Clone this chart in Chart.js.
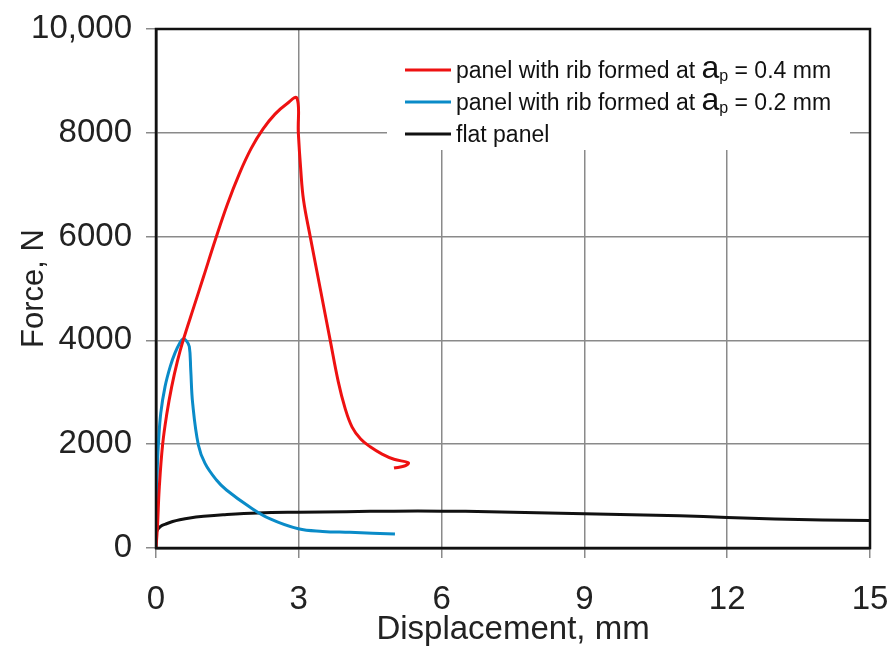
<!DOCTYPE html>
<html>
<head>
<meta charset="utf-8">
<script src="https://cdn.jsdelivr.net/npm/chart.js@4/dist/chart.umd.min.js"></script>
<style>
  html, body { margin: 0; padding: 0; background: #fff; }
  #wrap { width: 894px; height: 650px; }
</style>
</head>
<body>
<div id="wrap"><canvas id="forceChart" width="894" height="650"></canvas></div>
<script>
// tick values
const xTicks = [0, 3, 6, 9, 12, 15];
const yTicks = [0, 2000, 4000, 6000, 8000, 10000];

// panel with rib formed at ap = 0.4 mm
const ribDeepX = [0, 0.03, 0.07, 0.14, 0.23, 0.33, 0.45, 0.57, 0.8, 1.0, 1.25, 1.5, 1.75, 2.0, 2.25, 2.5, 2.75, 2.96,
  2.99, 3.04, 3.1, 3.24, 3.45, 3.66, 3.83, 3.97, 4.12, 4.3, 4.5, 4.75, 5.0, 5.3, 5.22, 5.0];
const ribDeepY = [0, 400, 1180, 2000, 2600, 3110, 3600, 4000, 4660, 5230, 5950, 6625, 7210, 7700, 8075, 8360, 8560, 8670,
  8000, 7300, 6700, 6000, 5000, 4000, 3200, 2700, 2330, 2100, 1950, 1810, 1710, 1640, 1580, 1540];

// panel with rib formed at ap = 0.2 mm
const ribShallowX = [0, 0.01, 0.03, 0.05, 0.1, 0.19, 0.3, 0.4, 0.5, 0.57, 0.64, 0.7, 0.73, 0.77, 0.89, 1.03,
  1.27, 1.48, 1.97, 2.4, 2.99, 3.5, 4.07, 5.02];
const ribShallowY = [300, 1000, 1600, 2000, 2600, 3110, 3500, 3760, 3950, 4030, 3990, 3880, 3430, 2790, 1985, 1630,
  1310, 1117, 790, 560, 370, 320, 302, 270];

// flat panel
const flatX = [0, 0.03, 0.1, 0.2, 0.35, 0.5, 0.71, 1.0, 1.41, 2.14, 3, 4, 5, 6, 7, 8, 9, 10, 11, 12, 13, 14, 15];
const flatY = [290, 350, 420, 460, 510, 545, 580, 610, 640, 675, 690, 700, 710, 710, 700, 680, 660, 640, 620, 590, 560, 540, 530];

const legendLabels = [
  { pre: 'panel with rib formed at ', post: ' = 0.4 mm', color: '#ee1111' },
  { pre: 'panel with rib formed at ', post: ' = 0.2 mm', color: '#0a8bc8' },
  { pre: 'flat panel', post: null, color: '#111111' }
];

function toPoints(xs, ys) {
  return xs.map((x, i) => ({ x: x, y: ys[i] }));
}

const FONT = "'Liberation Sans', Arial, sans-serif";

// white legend box inside the plot, with the "a" subscript "p"
const legendBox = {
  id: 'legendBox',
  beforeDatasetsDraw(chart) {
    const ctx = chart.ctx;
    const area = chart.chartArea;
    ctx.save();
    ctx.fillStyle = '#fff';
    ctx.fillRect(387, area.top, 463, 121);
    ctx.textBaseline = 'alphabetic';
    legendLabels.forEach((item, i) => {
      const y = 70 + i * 32;
      ctx.strokeStyle = item.color;
      ctx.lineWidth = 3;
      ctx.beginPath();
      ctx.moveTo(405, y);
      ctx.lineTo(451, y);
      ctx.stroke();
      let x = 456;
      const base = y + 8;
      ctx.fillStyle = '#111';
      ctx.font = '23px ' + FONT;
      ctx.fillText(item.pre, x, base);
      if (item.post) {
        x += ctx.measureText(item.pre).width;
        ctx.font = '32px ' + FONT;
        ctx.fillText('a', x, base);
        x += ctx.measureText('a').width;
        ctx.font = '16px ' + FONT;
        ctx.fillText('p', x, base + 3);
        x += ctx.measureText('p').width;
        ctx.font = '23px ' + FONT;
        ctx.fillText(item.post, x, base);
      }
    });
    ctx.restore();
  },
  afterDraw(chart) {
    const ctx = chart.ctx;
    const a = chart.chartArea;
    ctx.save();
    ctx.strokeStyle = '#111';
    ctx.lineWidth = 2.5;
    ctx.strokeRect(a.left, a.top, a.right - a.left, a.bottom - a.top);
    ctx.restore();
  }
};

new Chart(document.getElementById('forceChart').getContext('2d'), {
  type: 'scatter',
  data: {
    datasets: [
      { label: 'ap = 0.4 mm', data: toPoints(ribDeepX, ribDeepY), borderColor: '#ee1111' },
      { label: 'ap = 0.2 mm', data: toPoints(ribShallowX, ribShallowY), borderColor: '#0a8bc8' },
      { label: 'flat panel', data: toPoints(flatX, flatY), borderColor: '#111111' }
    ].map(ds => Object.assign(ds, {
      showLine: true,
      pointRadius: 0,
      borderWidth: 3,
      tension: 0.4,
      fill: false
    }))
  },
  options: {
    responsive: false,
    animation: false,
    layout: { padding: { top: 29, right: 24, left: 0, bottom: 0 } },
    plugins: {
      legend: { display: false },
      tooltip: { enabled: false }
    },
    scales: {
      x: {
        type: 'linear',
        min: 0,
        max: 15,
        afterBuildTicks: axis => { axis.ticks = xTicks.map(v => ({ value: v })); },
        afterFit: axis => {
          axis.height = 102;
          axis.paddingLeft = 0;
          axis.paddingRight = 0;
        },
        grid: { color: '#8a8a8a', lineWidth: 1.5, tickLength: 10, drawTicks: true },
        border: { color: '#111', width: 2.5 },
        ticks: { color: '#222', padding: 22, maxRotation: 0, font: { family: FONT, size: 33 } },
        title: {
          display: true,
          text: 'Displacement, mm',
          color: '#222',
          padding: { top: 0, bottom: 0 },
          font: { family: FONT, size: 33 }
        }
      },
      y: {
        type: 'linear',
        min: 0,
        max: 10000,
        afterBuildTicks: axis => { axis.ticks = yTicks.map(v => ({ value: v })); },
        afterFit: axis => {
          axis.width = 156;
          axis.paddingTop = 0;
          axis.paddingBottom = 0;
        },
        grid: { color: '#8a8a8a', lineWidth: 1.5, tickLength: 10, drawTicks: true },
        border: { color: '#111', width: 2.5 },
        ticks: {
          color: '#222',
          padding: 14,
          font: { family: FONT, size: 33 },
          callback: v => (v === 10000 ? '10,000' : String(v))
        },
        title: {
          display: true,
          text: 'Force, N',
          color: '#222',
          padding: { top: 16, bottom: 0 },
          font: { family: FONT, size: 31 }
        }
      }
    }
  },
  plugins: [legendBox]
});
</script>
</body>
</html>
